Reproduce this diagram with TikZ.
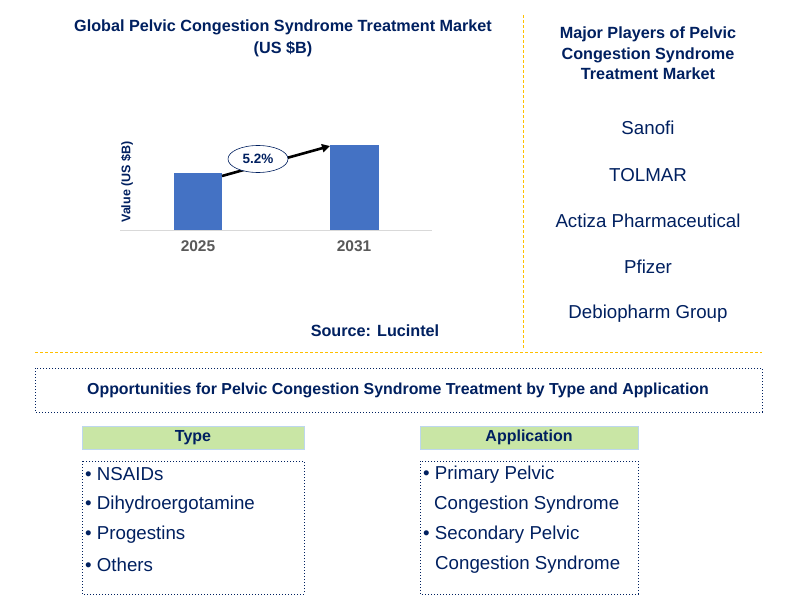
\documentclass[tikz,border=0pt]{standalone}
\usepackage{fontspec}
\setmainfont{Liberation Sans}
\usetikzlibrary{shapes.geometric,arrows.meta}
\definecolor{navy}{RGB}{0,32,96}
\definecolor{barblue}{RGB}{68,114,196}
\definecolor{sepor}{RGB}{255,192,0}
\definecolor{hdrgreen}{RGB}{201,230,165}
\definecolor{hdrborder}{RGB}{189,215,238}
\definecolor{axgray}{RGB}{217,217,217}
\definecolor{lblgray}{RGB}{89,89,89}
\begin{document}
\begin{tikzpicture}[x=1pt,y=-1pt,
  titletxt/.style={font=\fontsize{16.2}{21}\selectfont\bfseries, text=navy, align=center, inner sep=0pt},
  playertxt/.style={font=\fontsize{18.7}{21}\selectfont, text=navy, inner sep=0pt},
  yeartxt/.style={font=\fontsize{15.5}{18}\selectfont\bfseries, text=lblgray, inner sep=0pt},
  bar/.style={fill=barblue, draw=none},
  sepline/.style={draw=sepor, dash pattern=on 3pt off 2pt, line width=0.8pt},
  dotbox/.style={draw=navy, dotted, line width=1pt},
  hdr/.style={fill=hdrgreen, draw=hdrborder, line width=1pt, minimum width=222pt, minimum height=23pt, inner sep=0pt, font=\fontsize{16}{19}\selectfont\bfseries, text=navy},
  itemtxt/.style={font=\fontsize{18.7}{21}\selectfont, text=navy, inner sep=0pt, anchor=west},
]
\useasboundingbox (0,0) rectangle (797,607);
\fill[white] (0,0) rectangle (797,607);

% titles
\node[titletxt, font=\fontsize{16.2}{22}\selectfont\bfseries] (title) at (283,38) {Global Pelvic Congestion Syndrome Treatment Market\\(US \$B)};
\node[titletxt, font=\fontsize{16.2}{20.5}\selectfont\bfseries] (mptitle) at (648,53.5) {Major Players of Pelvic\\Congestion Syndrome\\Treatment Market};

% separators
\coordinate (vs1) at (523,15);
\coordinate (vs2) at (523,350);
\draw[sepline] (vs1) -- (vs2);
\coordinate (hs1) at (35,352);
\coordinate (hs2) at (762,352);
\draw[sepline] (hs1) -- (hs2);

% chart
\coordinate (ax1) at (120,230);
\coordinate (ax2) at (432,230);
\draw[axgray, line width=1pt] (ax1) -- (ax2);
\fill[bar] (174,173) rectangle (222,230);
\fill[bar] (330,145) rectangle (379,230);
\coordinate (b1top) at (222,176);
\coordinate (b2top) at (330,146);
\draw[black, line width=2.6pt, -{Triangle[length=8pt,width=8pt]}] (b1top) -- (b2top);
\node[ellipse, draw=navy, fill=white, line width=0.6pt, minimum width=60pt, minimum height=27pt, inner sep=0pt, font=\fontsize{13.5}{16}\selectfont\bfseries, text=navy] (cagr) at (258,159) {5.2\%};
\node[yeartxt] (y1) at (198,246) {2025};
\node[yeartxt] (y2) at (354,246) {2031};
\node[font=\fontsize{12.5}{14}\selectfont\bfseries, text=navy, rotate=90, inner sep=0pt] (yaxis) at (127,182) {Value (US \$B)};
\node[titletxt] (src) at (375,331) {Source: Lucintel};

% players
\node[playertxt] (p1) at (648,128) {Sanofi};
\node[playertxt] (p2) at (648,175) {TOLMAR};
\node[playertxt] (p3) at (648,221) {Actiza Pharmaceutical};
\node[playertxt] (p4) at (648,267) {Pfizer};
\node[playertxt] (p5) at (648,314) {Debiopharm Group};

% opportunities
\draw[dotbox] (35,368) rectangle (762,412);
\node[titletxt, font=\fontsize{15.9}{19}\selectfont\bfseries] (opp) at (398,390) {Opportunities for Pelvic Congestion Syndrome Treatment by Type and Application};

\node[hdr] (typehdr) at (193,437.5) {Type};
\node[hdr, minimum width=218pt] (apphdr) at (529,437.5) {Application};

\draw[dotbox] (82,461) rectangle (304,594);
\draw[dotbox] (420,461) rectangle (638,594);

\node[itemtxt] (t1) at (85,474.5) {\textbullet\ NSAIDs};
\node[itemtxt] (t2) at (85,504.5) {\textbullet\ Dihydroergotamine};
\node[itemtxt] (t3) at (85,534.5) {\textbullet\ Progestins};
\node[itemtxt] (t4) at (85,564.5) {\textbullet\ Others};

\node[itemtxt] (a1) at (423,474.5) {\textbullet\ Primary Pelvic};
\node[itemtxt] (a2) at (434,504.5) {Congestion Syndrome};
\node[itemtxt] (a3) at (423,534.5) {\textbullet\ Secondary Pelvic};
\node[itemtxt] (a4) at (435,564.5) {Congestion Syndrome};
\end{tikzpicture}
\end{document}
